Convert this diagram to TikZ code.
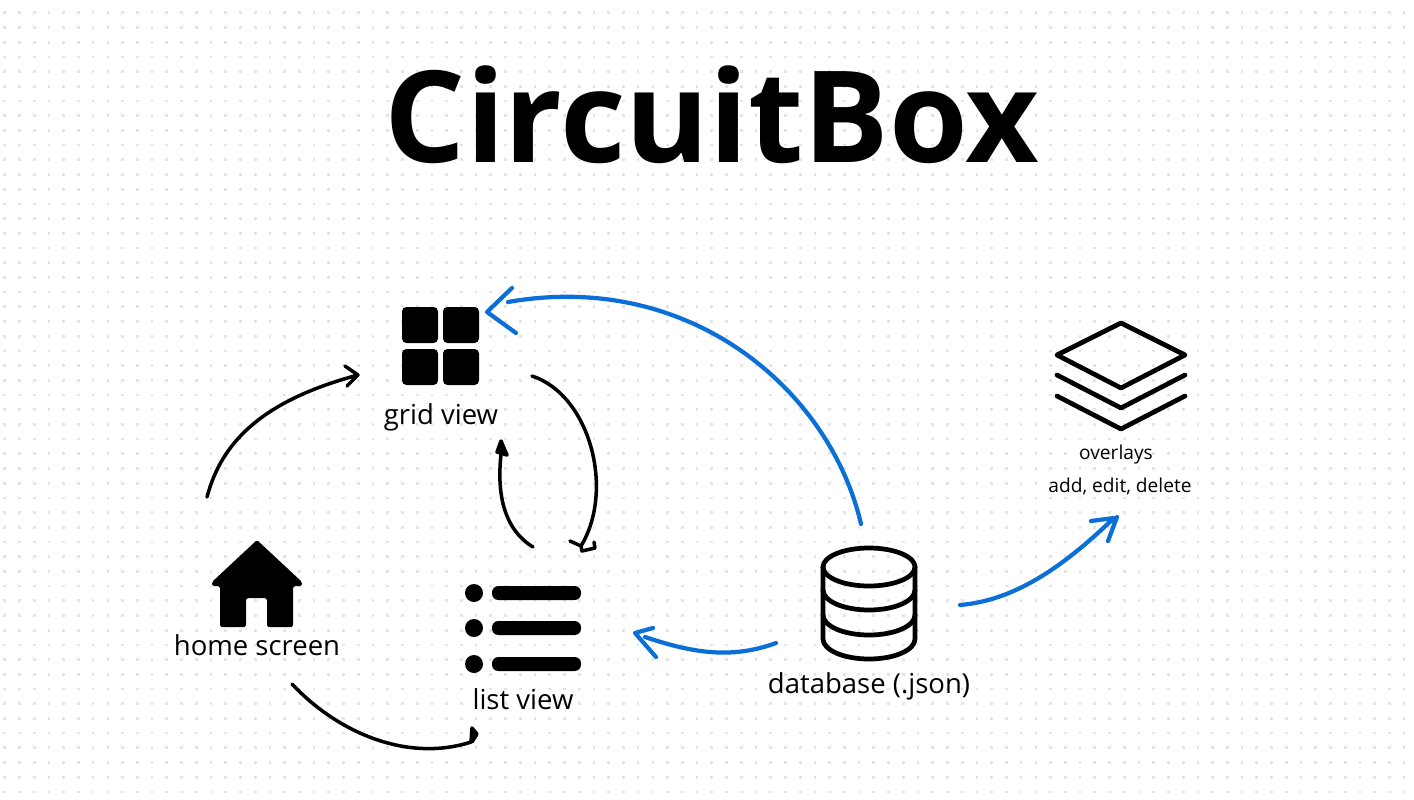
\documentclass[tikz,border=0pt]{standalone}
\usepackage{fontspec}
\setmainfont{Open Sans}
\definecolor{dotgray}{HTML}{E2E4EC}
\definecolor{sketchblue}{HTML}{0A6FD6}
\tikzset{
    griddot/.style={fill=dotgray},
    blackline/.style={line width=2pt,line cap=round,line join=round},
    blueline/.style={line width=2.4pt,line cap=round,line join=round,sketchblue},
    iconline/.style={line width=2.7pt,line cap=round,line join=round},
    biglabel/.style={font=\fontsize{15.65}{18}\selectfont,inner sep=0pt},
    smalllabel/.style={font=\fontsize{10.9}{13}\selectfont,inner sep=0pt},
}
\begin{document}
\begin{tikzpicture}[x=0.02cm,y=-0.02cm]
    \useasboundingbox (0,0) rectangle (1414,799);
    \fill[white] (0,0) rectangle (1414,799);
    % dotted paper
    \foreach \i in {0,...,95}
        \foreach \j in {0,...,53}
            \fill[griddot] (3.4+14.73*\i,11.4+14.7*\j) rectangle ++(2.7,2.7);
    \node[font=\fontsize{72.5}{76}\selectfont\bfseries,inner sep=0pt] (title) at (712,115) {CircuitBox};
    % grid icon
    \foreach \x in {402,443}
        \foreach \y in {307,349}
            \fill[rounded corners=2.5pt] (\x,\y) rectangle ++(36,36);
    \node[biglabel] (gridview) at (441,417) {grid view};
    % home icon
    \fill[rounded corners=1pt] (257,540) -- (302,582) -- (302,586) -- (293,586) -- (293,627) -- (267,627)
        -- (267,598) -- (246,598) -- (246,627) -- (220,627) -- (220,586) -- (212,586) -- (212,582) -- cycle;
    \node[biglabel] (homescreen) at (257,645) {home screen};
    % list icon
    \foreach \y in {593,628,664} {
        \fill (474,\y) circle (9);
        \fill[rounded corners=3.6pt] (492,\y-7) rectangle (581,\y+7);
    }
    \node[biglabel] (listview) at (523,699) {list view};
    % database icon
    \draw[iconline] (869,567) ellipse (46 and 19);
    \draw[iconline] (823,567) -- (823,639) arc (180:0:46 and 20) -- (915,567);
    \draw[iconline] (823,590) arc (180:0:46 and 20);
    \draw[iconline] (823,615) arc (180:0:46 and 20);
    \node[biglabel] (database) at (869,686) {database (.json)};
    % overlays icon
    \draw[iconline] (1121,323) -- (1185,355) -- (1121,388) -- (1057,355) -- cycle;
    \draw[iconline] (1057,375) -- (1121,408) -- (1185,375);
    \draw[iconline] (1057,396) -- (1121,429) -- (1185,396);
    \node[smalllabel] (overlays) at (1116,455) {overlays};
    \node[smalllabel] (actions) at (1120,486) {add, edit, delete};
    % ends of the sketched arrows
    \coordinate (homeout) at (207,497);
    \coordinate (gridin) at (358,375);
    \coordinate (gridout) at (532,376);
    \coordinate (listin) at (581,546);
    \coordinate (listout) at (533,547);
    \coordinate (gridback) at (502,447);
    \coordinate (homedown) at (292,684);
    \coordinate (listlow) at (471,742);
    \coordinate (dbup) at (861,524);
    \coordinate (gridblue) at (508,302);
    \coordinate (dbleft) at (776,643);
    \coordinate (listblue) at (645,637);
    \coordinate (dbright) at (960,605);
    \coordinate (overlayin) at (1114,518);
    % black arrows
    \draw[blackline] (homeout) .. controls (222,440) and (265,400) .. (gridin) -- ++(-13,-9) (gridin) -- ++(-11,11);
    \draw[blackline] (gridout) .. controls (590,395) and (615,490) .. (listin) -- ++(-11,-5) (listin) -- ++(1,5) -- ++(13,-3) -- ++(-1,-6);
    \draw[blackline] (listout) .. controls (505,530) and (495,495) .. (gridback);
    \draw[blackline,fill] (gridback) ++(-5,5) -- ++(4,-11) -- ++(6,14) -- cycle;
    \draw[blackline] (homedown) .. controls (340,735) and (410,762) .. (listlow);
    \draw[blackline,fill] (listlow) -- ++(1,-14) -- ++(5,6) -- ++(-5,8);
    % blue arrows
    \draw[blueline] (dbup) .. controls (830,390) and (690,270) .. (gridblue);
    \draw[blueline] (512,288) -- (487,312) -- (516,333);
    \draw[blueline] (dbleft) .. controls (730,660) and (690,652) .. (listblue);
    \draw[blueline] (653,628) -- (635,633) -- (656,657);
    \draw[blueline] (dbright) .. controls (1020,600) and (1070,560) .. (overlayin) -- ++(-23,3) (overlayin) ++(3,-1) -- ++(-9,24);
\end{tikzpicture}
\end{document}
